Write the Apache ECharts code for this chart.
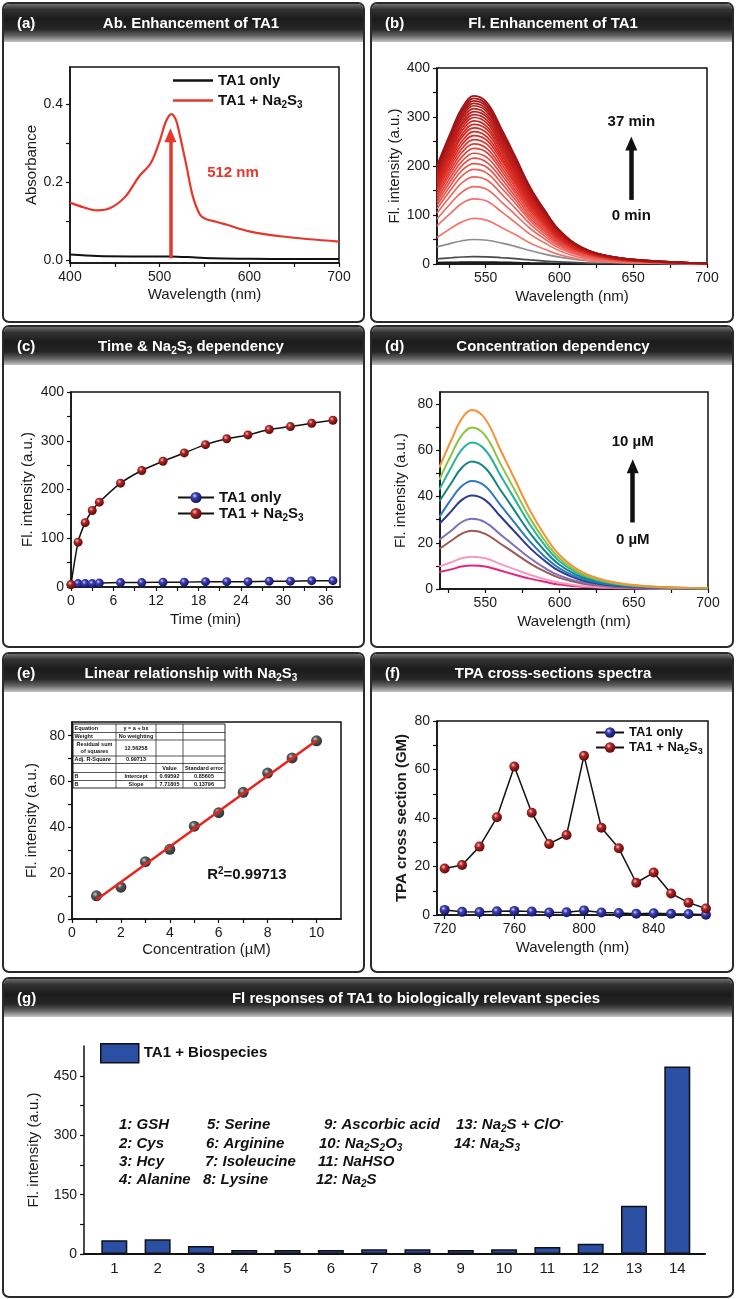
<!DOCTYPE html>
<html><head><meta charset="utf-8">
<script src="https://cdn.jsdelivr.net/npm/echarts@6/dist/echarts.min.js"></script>
<style>html,body{margin:0;padding:0;background:#fff}#c{width:736px;height:1299px}</style>
</head><body><div id="c"></div>
<script>
// ---------------- DATA ----------------
// (a) absorbance
const aWl = [400,415,430,445,462,477,490,500,507,513,518,522,530,537,545,552,563,575,600,637,700];
const aNa2S3 = [0.147,0.135,0.127,0.133,0.163,0.214,0.248,0.305,0.355,0.374,0.36,0.325,0.24,0.163,0.116,0.104,0.098,0.09,0.073,0.06,0.047];
const aWlOnly = [400,430,470,512,540,560,600,650,700];
const aOnly = [0.014,0.010,0.009,0.009,0.006,0.004,0.003,0.002,0.002];
// (b) fluorescence spectra over time (0 -> 37 min)
const bWl = [517,527,534,542,551,561,570,580,590,600,615,635,660,700];
const bCurves = [
 [2.8,3.4,3.8,4,3.9,3.4,2.9,2.2,1.6,1.1,0.6,0.3,0.1,0],
 [10.5,12.8,14.3,15,14.6,12.8,10.8,8.3,6,4.2,2.4,1.2,0.5,0.2],
 [35,42.5,47.5,50,48.5,42.5,36,27.5,20,14,8,4,1.8,0.5],
 [54,74,86,93,89,74,60,43,30,19,9,4,2,0.4],
 [78,106,124,133,128,106,85,61,43,27,13,6,3,0.5],
 [92,126,147,158,152,126,101,73,51,32,16,7,3,0.6],
 [104,142,166,178,171,142,114,82,57,36,18,8,4,0.7],
 [113,154,180,193,185,154,124,89,62,39,19,9,4,0.8],
 [120,164,191,205,197,164,131,94,66,41,21,9,4,0.8],
 [126,173,201,216,207,173,138,99,69,43,22,10,4,0.9],
 [132,181,210,226,217,181,145,104,72,45,23,10,5,0.9],
 [138,189,219,236,227,189,151,109,76,47,24,11,5,0.9],
 [143,196,228,245,235,196,157,113,78,49,25,11,5,1],
 [149,203,236,254,244,203,163,117,81,51,25,11,5,1],
 [153,210,244,262,252,210,168,121,84,52,26,12,5,1],
 [158,216,251,270,259,216,173,124,86,54,27,12,5,1.1],
 [163,222,259,278,267,222,178,128,89,56,28,13,6,1.1],
 [167,228,265,285,274,228,182,131,91,57,29,13,6,1.1],
 [171,234,272,292,280,234,187,134,93,58,29,13,6,1.2],
 [175,239,278,299,287,239,191,138,96,60,30,13,6,1.2],
 [178,244,284,305,293,244,195,140,98,61,31,14,6,1.2],
 [182,249,289,311,299,249,199,143,100,62,31,14,6,1.2],
 [185,254,295,317,304,254,203,146,101,63,32,14,6,1.3],
 [189,258,300,323,310,258,207,149,103,65,32,15,6,1.3],
 [192,262,305,328,315,262,210,151,105,66,33,15,7,1.3],
 [195,266,310,333,320,266,213,153,107,67,33,15,7,1.3],
 [198,270,314,338,324,270,216,155,108,68,34,15,7,1.4],
 [201,274,319,343,329,274,220,158,110,69,34,15,7,1.4]
];
// (c) time dependency
const cTime = [0,1,2,3,4,7,10,13,16,19,22,25,28,31,34,37];
const cOnly = [5,7,7,7,8,9,9,10,10,11,11,11,12,12,13,13];
const cNa2S3 = [5,92,132,157,174,213,239,258,275,292,304,312,323,329,336,342];
// (d) concentration dependency (top = 10 uM ... bottom = 0 uM)
const dWl = [519,527,534,541,550,560,570,580,590,600,615,635,660,700];
const dCurves = [
 [52.6,64.3,73.6,77.5,73.6,60.5,47.3,34.1,23.3,14.7,7.4,3.1,1.2,0.3],
 [47.3,58,66.4,69.9,66.4,54.5,42.6,30.8,21,13.3,6.6,2.8,1.1,0.3],
 [43,52.6,60.2,63.4,60.2,49.5,38.7,27.9,19,12,6,2.5,1,0.3],
 [37.9,45.8,52.4,55.2,52.4,43.1,33.7,24.3,16.6,10.5,5.2,2.2,0.9,0.2],
 [31.1,38.8,44.5,46.8,44.5,36.5,28.5,20.6,14,8.9,4.4,1.9,0.7,0.2],
 [28.1,33.6,38.5,40.5,38.5,31.6,24.7,17.8,12.2,7.7,3.8,1.6,0.6,0.2],
 [21.3,25.2,28.9,30.4,28.9,23.7,18.5,13.4,9.1,5.8,2.9,1.2,0.5,0.1],
 [17.3,20.9,23.9,25.2,23.9,19.7,15.4,11.1,7.6,4.8,2.4,1,0.4,0.1],
 [9.8,11.6,13.3,14,13.3,10.9,8.5,6.2,4.2,2.7,1.3,0.6,0.2,0.1],
 [7.4,8.5,9.7,10.2,9.7,8,6.2,4.5,3.1,1.9,1,0.4,0.2,0.1]
];
// (e) linear relationship
const eConc = [1,2,3,4,5,6,7,8,9,10];
const eFl = [10.1,13.9,25.0,30.4,40.5,46.4,55.3,63.7,70.3,77.8];
const eFitX = [1,10];
const eFitY = [8.41,77.88];
const eTable = [
 ['Equation','y = a + bx','',''],
 ['Weight','No weighting','',''],
 ['Residual sum\nof squares','12.56258','',''],
 ['Adj. R-Square','0.99713','',''],
 ['','','Value','Standard error'],
 ['B','Intercept','0.69592','0.85605'],
 ['B','Slope','7.71805','0.13796']
];
// (f) TPA cross sections
const fWl = [720,730,740,750,760,770,780,790,800,810,820,830,840,850,860,870];
const fOnly = [2.1,1.3,1.2,1.5,1.7,1.4,1.0,1.1,1.9,1.0,0.8,0.5,0.7,0.5,0.4,0.1];
const fNa2S3 = [19.2,20.6,28.2,40.3,61.2,42.2,29.3,33.0,65.7,36.0,27.5,13.3,17.5,8.9,5.1,2.7];
// (g) biospecies
const gIdx = [1,2,3,4,5,6,7,8,9,10,11,12,13,14];
const gFl = [35,37,20,10,10,10,12,12,10,12,18,26,122,474];
const gSpecies = ['GSH','Cys','Hcy','Alanine','Serine','Arginine','Isoleucine','Lysine','Ascorbic acid',
 'Na{s|2}S{s|2}O{s|3}','NaHSO','Na{s|2}S','Na{s|2}S + ClO{p|-}','Na{s|2}S{s|3}'];

// ---------------- STYLE ----------------
const FF = '"Liberation Sans", Arial, Helvetica, sans-serif';
const TXT = '#1a1a1a';
const zip = (xs, ys) => xs.map((x, i) => [x, ys[i]]);
function subRich(fs, color, italic) {
  const base = {fontSize: Math.round(fs * 0.66), fontWeight: 'bold', fontFamily: FF, color: color, fill: color};
  if (italic) base.fontStyle = 'italic';
  return {
    s: Object.assign({}, base, {padding: [Math.round(fs * 0.62), 0, 0, 0]}),
    p: Object.assign({}, base, {padding: [0, 0, Math.round(fs * 0.55), 0]})
  };
}
function sphere(c0, c1, c2) {
  return {type: 'radial', x: 0.38, y: 0.35, r: 0.65,
    colorStops: [{offset: 0, color: c0}, {offset: 0.35, color: c1}, {offset: 1, color: c2}]};
}
const redBall = sphere('#f4c4c4', '#b32626', '#5a0a0a');
const blueBall = sphere('#cfd0f4', '#3b3db4', '#14155c');
const blackBall = sphere('#c8c8c8', '#2e2e2e', '#000');

function axis(gi, pos, min, max, labels, ticks, name, gap, extra) {
  extra = extra || {};
  return {
    type: 'value', gridIndex: gi, position: pos, min: min, max: max,
    name: name, nameLocation: 'middle', nameGap: gap,
    nameTextStyle: Object.assign({fontSize: 15, color: TXT, fontFamily: FF}, extra.nameStyle || {}),
    axisLine: {show: true, onZero: false, lineStyle: {color: '#111', width: extra.lineWidth || 1.5}},
    axisTick: {show: extra.noTicks ? false : true, inside: false, length: 4,
      lineStyle: {color: '#111', width: 1.2}, customValues: ticks},
    axisLabel: {show: true, customValues: labels, fontSize: extra.labelSize || 14, color: TXT,
      fontFamily: FF, margin: 7, formatter: extra.fmt || (v => String(v))},
    splitLine: {show: false}, minorTick: {show: false}
  };
}
const range = (a, b, s) => { const r = []; for (let v = a; v <= b + 1e-9; v += s) r.push(+v.toFixed(6)); return r; };

// ---------------- LAYOUT ----------------
const grids = [
  {left: 70, top: 67, width: 269, height: 196},
  {left: 437, top: 68, width: 270, height: 196},
  {left: 71, top: 392, width: 269, height: 195},
  {left: 440, top: 392, width: 268, height: 197},
  {left: 72, top: 722, width: 269, height: 197},
  {left: 437, top: 721, width: 271, height: 194},
  {left: 84, top: 1046, width: 621, height: 208}
].map((g, i) => Object.assign({show: i < 6, borderColor: '#111', borderWidth: 1.5,
  backgroundColor: 'transparent', containLabel: false}, g));

const xAxes = [
  axis(0, 'bottom', 400, 700, range(400, 700, 100), range(400, 700, 50), 'Wavelength (nm)', 24),
  axis(1, 'bottom', 517, 700, [550, 600, 650, 700], range(525, 700, 25), 'Wavelength (nm)', 25),
  axis(2, 'bottom', 0, 38, range(0, 36, 6), range(0, 36, 3), 'Time (min)', 25),
  axis(3, 'bottom', 519.5, 700, [550, 600, 650, 700], range(525, 700, 25), 'Wavelength (nm)', 25),
  axis(4, 'bottom', 0, 11, range(0, 10, 2), range(0, 10, 1), 'Concentration (\u00b5M)', 23),
  axis(5, 'bottom', 715.6, 871.2, [720, 760, 800, 840], range(720, 860, 20), 'Wavelength (nm)', 25),
  axis(6, 'bottom', 0.3, 14.64, gIdx, gIdx, '', 0, {noTicks: true, lineWidth: 2.2, labelSize: 15})
];
const yAxes = [
  axis(0, 'left', -0.008, 0.495, [0, 0.2, 0.4], range(0, 0.4, 0.1), 'Absorbance', 30, {fmt: v => (+v).toFixed(1)}),
  axis(1, 'left', 0, 400, range(0, 400, 100), range(0, 400, 50), 'Fl. intensity (a.u.)', 33),
  axis(2, 'left', 0, 400, range(0, 400, 100), range(0, 400, 50), 'Fl. intensity (a.u.)', 36),
  axis(3, 'left', 0, 85.3, range(0, 80, 20), range(0, 80, 10), 'Fl. intensity (a.u.)', 32),
  axis(4, 'left', 0, 86, range(0, 80, 20), range(0, 80, 10), 'Fl. intensity (a.u.)', 33),
  axis(5, 'left', 0, 80, range(0, 80, 20), range(0, 80, 10), 'TPA cross section (GM)', 28, {nameStyle: {fontWeight: 'bold'}}),
  axis(6, 'left', 0, 526, [0, 150, 300, 450], range(0, 450, 75), 'Fl. intensity (a.u.)', 43, {labelSize: 14})
];

// ---------------- SERIES ----------------
const series = [];
const noAnim = {animation: false, silent: true};
// annotation texts + arrow heads positioned in data coordinates
function marks(texts, heads, color) {
  color = color || '#111';
  const data = texts.map(it => ({coord: it[0], txt: it[1]}));
  heads.forEach(h => data.push({coord: h, txt: '', symbol: 'triangle', symbolSize: [12, 14],
    itemStyle: {color: color}, label: {show: false}}));
  return {silent: true, symbol: 'circle', symbolSize: 1, itemStyle: {color: 'rgba(0,0,0,0)'},
    label: {show: true, position: 'inside', formatter: p => p.data.txt, fontSize: 15, fontWeight: 'bold',
      color: color, fontFamily: FF, rich: subRich(15, color)},
    data: data};
}
function shaft(from, to, color, width) {
  return {silent: true, symbol: ['none', 'none'], label: {show: false},
    lineStyle: {color: color, width: width, type: 'solid'}, emphasis: {disabled: true},
    data: [[{coord: from}, {coord: to}]]};
}
// (a)
series.push(Object.assign({type: 'line', name: 'a_only', xAxisIndex: 0, yAxisIndex: 0,
  data: zip(aWlOnly, aOnly), symbol: 'none', smooth: 0.3,
  lineStyle: {color: '#111', width: 2}, itemStyle: {color: '#111'}}, noAnim));
series.push(Object.assign({type: 'line', name: 'a_na', xAxisIndex: 0, yAxisIndex: 0,
  data: zip(aWl, aNa2S3), symbol: 'none', smooth: 0.35,
  lineStyle: {color: '#e5372c', width: 2.2}, itemStyle: {color: '#e5372c'},
  markLine: shaft([512, 0.004], [512, 0.322], '#e5372c', 3.5),
  markPoint: marks([[[581.8, 0.223], '512 nm']], [[512, 0.320]], '#e5372c')}, noAnim));
// (b)
function lerp(c1, c2, t) { return c1.map((v, i) => Math.round(v + (c2[i] - v) * t)); }
bCurves.forEach((row, i) => {
  let col;
  if (i === 0) col = '#1a1a1a'; else if (i === 1) col = '#4a4a4a'; else if (i === 2) col = '#8e8e8e';
  else {
    const t = (i - 3) / (bCurves.length - 4);
    const c = t < 0.5 ? lerp([243, 120, 112], [218, 38, 30], t / 0.5) : lerp([218, 38, 30], [158, 20, 22], (t - 0.5) / 0.5);
    col = 'rgb(' + c.join(',') + ')';
  }
  const s = Object.assign({type: 'line', name: 'b' + i, xAxisIndex: 1, yAxisIndex: 1,
    data: zip(bWl, row), symbol: 'none', smooth: 0.4, lineStyle: {color: col, width: 1.7}}, noAnim);
  if (i === bCurves.length - 1) {
    s.markLine = shaft([648.7, 130.8], [648.7, 247], '#111', 4.5);
    s.markPoint = marks([[[648.7, 289.6], '37 min'], [[648.7, 98.7], '0 min']], [[648.7, 245.7]]);
  }
  series.push(s);
});
// (c)
series.push(Object.assign({type: 'line', name: 'c_only', xAxisIndex: 2, yAxisIndex: 2,
  data: zip(cTime, cOnly), symbol: 'circle', symbolSize: 9, showAllSymbol: true,
  lineStyle: {color: '#111', width: 1.5}, itemStyle: {color: blueBall}}, noAnim));
series.push(Object.assign({type: 'line', name: 'c_na', xAxisIndex: 2, yAxisIndex: 2,
  data: zip(cTime, cNa2S3), symbol: 'circle', symbolSize: 9, showAllSymbol: true, smooth: 0.2,
  lineStyle: {color: '#111', width: 1.5}, itemStyle: {color: redBall}}, noAnim));
// (d)
const dColors = ['#f4913a', '#8dc43f', '#27b39b', '#138483', '#2f79c1', '#2c3a8f', '#7b70bd', '#9c5851', '#f59bc1', '#e8247c'];
for (let i = dCurves.length - 1; i >= 0; i--) {
  const s = Object.assign({type: 'line', name: 'd' + i, xAxisIndex: 3, yAxisIndex: 3,
    data: zip(dWl, dCurves[i]), symbol: 'none', smooth: 0.4,
    lineStyle: {color: dColors[i], width: 2}}, noAnim);
  if (i === 0) {
    s.markLine = shaft([649.3, 28.8], [649.3, 53.4], '#111', 4.5);
    s.markPoint = marks([[[649.3, 63.8], '10 \u00b5M'], [[649.3, 21.3], '0 \u00b5M']], [[649.3, 53.2]]);
  }
  series.push(s);
}
// (e)
series.push(Object.assign({type: 'scatter', name: 'e_pts', xAxisIndex: 4, yAxisIndex: 4,
  data: zip(eConc, eFl), symbol: 'circle', symbolSize: 11, itemStyle: {color: blackBall}}, noAnim));
series.push(Object.assign({type: 'line', name: 'e_fit', xAxisIndex: 4, yAxisIndex: 4,
  data: zip(eFitX, eFitY), symbol: 'none', lineStyle: {color: '#e8231c', width: 2.5},
  markPoint: marks([[[7.15, 19.2], 'R{p|2}=0.99713']], [])}, noAnim));
// (f)
series.push(Object.assign({type: 'line', name: 'f_only', xAxisIndex: 5, yAxisIndex: 5,
  data: zip(fWl, fOnly), symbol: 'circle', symbolSize: 10, showAllSymbol: true,
  lineStyle: {color: '#111', width: 1.5}, itemStyle: {color: blueBall}}, noAnim));
series.push(Object.assign({type: 'line', name: 'f_na', xAxisIndex: 5, yAxisIndex: 5,
  data: zip(fWl, fNa2S3), symbol: 'circle', symbolSize: 10, showAllSymbol: true,
  lineStyle: {color: '#111', width: 1.5}, itemStyle: {color: redBall}}, noAnim));
// (g)
series.push(Object.assign({type: 'bar', name: 'g_bio', xAxisIndex: 6, yAxisIndex: 6,
  data: zip(gIdx, gFl), barWidth: 26,
  itemStyle: {color: '#2a4fa3', borderColor: '#111', borderWidth: 1.5}}, noAnim));

// ---------------- LEGENDS ----------------
const legendText = {
  a_only: 'TA1 only', a_na: 'TA1 + Na{s|2}S{s|3}',
  c_only: 'TA1 only', c_na: 'TA1 + Na{s|2}S{s|3}',
  f_only: 'TA1 only', f_na: 'TA1 + Na{s|2}S{s|3}',
  g_bio: 'TA1 + Biospecies'
};
function leg(name, left, top, w, h, fs, extra) {
  return Object.assign({show: true, left: left, top: top, padding: 0, itemWidth: w, itemHeight: h,
    orient: 'horizontal', selectedMode: false, data: [name], formatter: n => legendText[n],
    textStyle: {fontSize: fs, fontWeight: 'bold', color: '#111', fontFamily: FF, rich: subRich(fs, '#111')}}, extra || {});
}
const legends = [
  leg('a_only', 173, 73, 40, 2.5, 15, {icon: 'rect'}),
  leg('a_na', 173, 93, 40, 2.5, 15, {icon: 'rect'}),
  leg('c_only', 177, 490, 36, 14, 15),
  leg('c_na', 177, 506, 36, 14, 15),
  leg('f_only', 595, 726, 28, 13, 13),
  leg('f_na', 595, 741, 28, 13, 13),
  leg('g_bio', 100, 1043, 38, 19, 15, {icon: 'rect', itemStyle: {borderColor: '#111', borderWidth: 1.5}})
];

// ---------------- GRAPHIC (panel frames, headers, table, labels) ----------------
const panels = [
  {x: 3, y: 3, w: 361, h: 319, tag: '(a)', title: 'Ab. Enhancement of TA1', tx: 191},
  {x: 371, y: 3, w: 362, h: 319, tag: '(b)', title: 'Fl. Enhancement of TA1', tx: 553},
  {x: 3, y: 326, w: 361, h: 321, tag: '(c)', title: 'Time & Na{s|2}S{s|3} dependency', tx: 191},
  {x: 371, y: 326, w: 362, h: 321, tag: '(d)', title: 'Concentration dependency', tx: 553},
  {x: 3, y: 653, w: 361, h: 319, tag: '(e)', title: 'Linear relationship with Na{s|2}S{s|3}', tx: 191},
  {x: 371, y: 653, w: 362, h: 319, tag: '(f)', title: 'TPA cross-sections spectra', tx: 553},
  {x: 3, y: 978, w: 730, h: 319, tag: '(g)', title: 'Fl responses of TA1 to biologically relevant species', tx: 416}
];
const headGrad = {type: 'linear', x: 0, y: 0, x2: 0, y2: 1, colorStops: [
  {offset: 0, color: '#6e6e6e'}, {offset: 0.14, color: '#333'}, {offset: 0.4, color: '#1b1b1b'},
  {offset: 0.66, color: '#262626'}, {offset: 0.84, color: '#666'}, {offset: 1, color: '#c4c4c4'}]};
const gfx = [];
panels.forEach(p => {
  gfx.push({type: 'rect', z: -10, silent: true, shape: {x: p.x, y: p.y, width: p.w, height: p.h, r: 6},
    style: {fill: '#fff', stroke: '#2a2a2a', lineWidth: 2}});
  gfx.push({type: 'rect', z: -9, silent: true, shape: {x: p.x + 1, y: p.y + 1, width: p.w - 2, height: 38, r: [5, 5, 0, 0]},
    style: {fill: headGrad}});
  gfx.push({type: 'text', z: -8, silent: true, x: p.x + 14, y: p.y + 21,
    style: {text: p.tag, fill: '#fff', fontSize: 15, fontWeight: 'bold', fontFamily: FF, align: 'left', verticalAlign: 'middle'}});
  gfx.push({type: 'text', z: -8, silent: true, x: p.tx, y: p.y + 21,
    style: {text: p.title, fill: '#fff', fontSize: 15, fontWeight: 'bold', fontFamily: FF, align: 'center', verticalAlign: 'middle',
      rich: subRich(15, '#fff')}});
});
// (e) fit table
const tX = [73, 116, 156, 183, 225];
const tY = [724, 732.5, 740, 756, 763.5, 772.5, 780.5, 788];
gfx.push({type: 'rect', z: 50, silent: true, shape: {x: tX[0], y: tY[0], width: tX[4] - tX[0], height: tY[7] - tY[0]},
  style: {fill: '#fff', stroke: '#111', lineWidth: 0.9}});
tY.slice(1, -1).forEach(y => gfx.push({type: 'line', z: 51, silent: true,
  shape: {x1: tX[0], y1: y, x2: tX[4], y2: y}, style: {stroke: '#111', lineWidth: 0.7}}));
tX.slice(1, -1).forEach(x => gfx.push({type: 'line', z: 51, silent: true,
  shape: {x1: x, y1: tY[0], x2: x, y2: tY[7]}, style: {stroke: '#111', lineWidth: 0.7}}));
eTable.forEach((row, r) => row.forEach((t, c) => {
  if (!t) return;
  const left = c === 0 && t.indexOf('\n') < 0;
  gfx.push({type: 'text', z: 52, silent: true,
    x: left ? tX[0] + 1.5 : (tX[c] + tX[c + 1]) / 2, y: (tY[r] + tY[r + 1]) / 2,
    style: {text: t, fill: '#111', fontSize: 5.5, fontWeight: 'bold', fontFamily: FF, lineHeight: 6.5,
      align: left ? 'left' : 'center', verticalAlign: 'middle'}});
}));
// (g) species list
const gListX = [119, 119, 119, 119, 207, 206, 205, 203, 324, 319, 318, 316, 456, 454];
const gListY = [1125, 1144, 1162, 1180];
gSpecies.forEach((s, i) => {
  gfx.push({type: 'text', z: 50, silent: true, x: gListX[i], y: gListY[i % 4],
    style: {text: (i + 1) + ': ' + s, fill: '#111', fontSize: 15, fontWeight: 'bold', fontStyle: 'italic', fontFamily: FF,
      align: 'left', verticalAlign: 'middle', rich: subRich(15, '#111', true)}});
});

const option = {
  animation: false,
  textStyle: {fontFamily: FF},
  grid: grids, xAxis: xAxes, yAxis: yAxes, series: series, legend: legends,
  graphic: {elements: gfx}
};
const chart = echarts.init(document.getElementById('c'), null, {renderer: 'canvas', width: 736, height: 1299});
chart.setOption(option);
</script></body></html>
